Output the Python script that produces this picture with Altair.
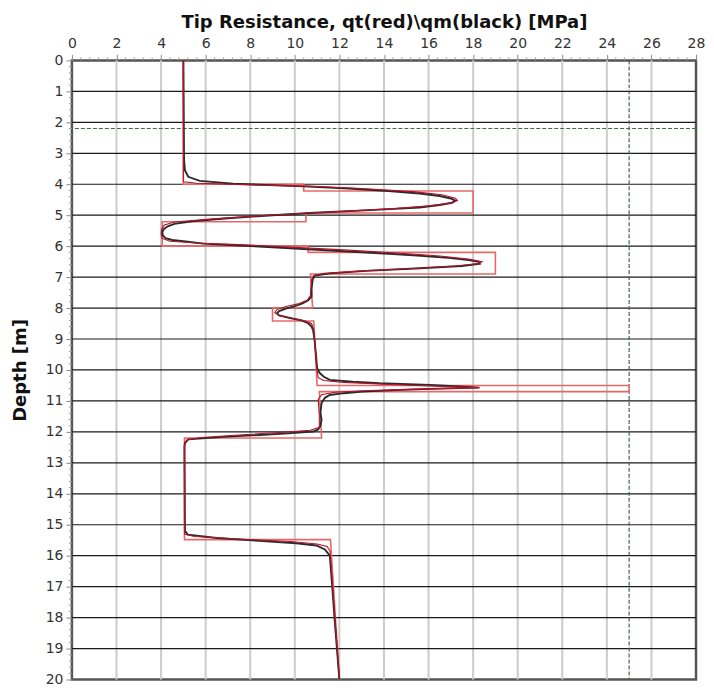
import altair as alt
import pandas as pd

# ---- data ----
# measured cone resistance qm (black curve)
qm_depth = [0.0, 3.2, 3.55, 3.76, 3.89, 3.98, 4.07, 4.14, 4.22, 4.3, 4.38, 4.46, 4.53, 4.6, 4.67,
            4.75, 4.83, 4.92, 5.0, 5.1, 5.2, 5.28, 5.36, 5.45, 5.55, 5.65, 5.74, 5.8, 5.86, 5.92,
            5.98, 6.06, 6.14, 6.22, 6.3, 6.38, 6.45, 6.51, 6.57, 6.64, 6.72, 6.8, 6.88, 6.95,
            7.08, 7.4, 7.63, 7.75, 7.85, 7.94, 8.02, 8.1, 8.17, 8.24, 8.32, 8.4, 8.49, 8.6, 8.71,
            9.0, 9.5, 9.94, 10.1, 10.22, 10.32, 10.38, 10.43, 10.48, 10.53, 10.57, 10.61, 10.65,
            10.7, 10.75, 10.81, 10.9, 11.07, 11.39, 11.61, 11.8, 11.92, 11.99, 12.05, 12.1,
            12.16, 12.24, 12.36, 12.5, 15.2, 15.32, 15.43, 15.52, 15.6, 15.67, 15.8, 16.0,
            17.0, 18.0, 19.0, 20.0]
qm_val = [5.0, 5.03, 5.07, 5.22, 5.74, 7.23, 10.4, 12.4, 14.2, 15.6, 16.5, 17.0, 17.2, 17.05, 16.5,
          15.6, 13.6, 10.9, 9.0, 7.0, 5.4, 4.6, 4.3, 4.12, 4.06, 4.08, 4.2, 4.5, 5.2, 5.9,
          7.5, 9.6, 11.6, 13.6, 15.5, 16.9, 17.8, 18.25, 18.3, 17.5, 15.4, 13.2, 11.6, 10.9,
          10.8, 10.75, 10.75, 10.6, 10.35, 10.0, 9.6, 9.3, 9.2, 9.3, 9.78, 10.3, 10.6, 10.75, 10.82,
          10.88, 10.95, 11.0, 11.12, 11.3, 11.57, 12.6, 13.8, 16.05, 17.4, 18.25, 16.05, 14.5,
          13.05, 12.2, 11.57, 11.35, 11.2, 11.15, 11.2, 11.15, 11.05, 10.82, 9.7, 8.42,
          6.8, 5.22, 5.07, 5.05, 5.07, 5.2, 6.5, 8.4, 10.07, 10.97, 11.35, 11.57,
          11.68, 11.78, 11.89, 12.0]

# corrected cone resistance qt (dark red curve)
qt_depth = [0.0, 3.92, 3.97, 4.02, 4.06, 4.14, 4.24, 4.34, 4.45, 4.53, 4.61, 4.7, 4.78, 4.86,
            4.93, 5.02, 5.12, 5.22, 5.32, 5.45, 5.6, 5.75, 5.84, 5.9, 5.96, 6.04, 6.12, 6.22,
            6.32, 6.42, 6.5, 6.57, 6.64, 6.72, 6.8, 6.88, 6.95, 7.1, 7.6, 7.75, 7.85, 7.95,
            8.05, 8.15, 8.25, 8.32, 8.4, 8.5, 8.7, 10.0, 10.25, 10.34, 10.4, 10.46, 10.52,
            10.57, 10.62, 10.67, 10.72, 10.8, 10.95, 11.5, 11.85, 11.95, 12.02, 12.1, 12.18,
            12.26, 12.4, 15.3, 15.38, 15.46, 15.54, 15.62, 15.7, 15.85, 20.0]
qt_val = [5.0, 5.0, 5.6, 8.0, 10.6, 13.0, 15.3, 16.6, 17.2, 17.3, 17.0, 16.0, 14.6, 12.6,
          10.6, 8.5, 6.3, 4.6, 4.15, 4.02, 4.0, 4.05, 4.4, 5.6, 7.8, 10.0, 12.2, 14.6,
          16.5, 17.8, 18.4, 18.2, 17.2, 15.3, 13.0, 11.3, 10.85, 10.75, 10.7, 10.55, 10.2, 9.6,
          9.2, 9.1, 9.3, 9.8, 10.4, 10.75, 10.85, 11.0, 11.05, 11.3, 12.2, 14.0, 16.0,
          18.3, 15.5, 13.0, 11.8, 11.2, 11.05, 11.1, 11.1, 10.7, 9.3, 7.5, 5.8,
          5.15, 5.05, 5.05, 5.5, 7.5, 9.8, 11.0, 11.45, 11.58, 12.0]

# interpreted layered qt (pink step profile)
layer_depth = [0.0, 4.0, 4.0, 4.22, 4.22, 4.93, 4.93, 5.21, 5.21, 6.0, 6.0, 6.2, 6.2, 6.9, 6.9,
               8.0, 8.0, 8.42, 8.42, 10.5, 10.5, 10.7, 10.7, 12.2, 12.2, 15.48, 15.48, 20.0]
layer_qt = [5.0, 5.0, 10.4, 10.4, 18.0, 18.0, 10.5, 10.5, 4.05, 4.05, 10.6, 10.6, 19.0, 19.0, 10.7,
            10.8, 9.0, 9.0, 10.85, 11.0, 25.0, 25.0, 11.1, 11.2, 5.05, 5.05, 11.6, 12.0]

x_ticks = [0, 2, 4, 6, 8, 10, 12, 14, 16, 18, 20, 22, 24, 26, 28]
y_ticks = list(range(0, 21))
x_minor = [v / 10 for v in range(0, 281, 4) if v % 20 != 0]
y_minor = [v / 10 for v in range(0, 201, 2) if v % 10 != 0]
water_level = [2.2]
q_limit = [25.0]

# ---- frames ----
qm_df = pd.DataFrame({"depth": qm_depth, "q": qm_val, "i": range(len(qm_val))})
qt_df = pd.DataFrame({"depth": qt_depth, "q": qt_val, "i": range(len(qt_val))})
lay_df = pd.DataFrame({"depth": layer_depth, "q": layer_qt, "i": range(len(layer_qt))})
vgrid_df = pd.DataFrame({"q": x_ticks[1:-1]})
hgrid_df = pd.DataFrame({"depth": y_ticks[1:-1]})
xminor_df = pd.DataFrame({"q": x_minor})
yminor_df = pd.DataFrame({"depth": y_minor})
wl_df = pd.DataFrame({"depth": water_level})
ql_df = pd.DataFrame({"q": q_limit})

FONT = "DejaVu Sans"
xscale = alt.Scale(domain=[0, 28], nice=False, zero=False)
yscale = alt.Scale(domain=[0, 20], nice=False, reverse=True)
xaxis = alt.Axis(orient="top", values=x_ticks, title="Tip Resistance, qt(red)\\qm(black) [MPa]",
                 titleFont=FONT, titleFontSize=18, titleFontWeight="bold", titleColor="#111111",
                 titlePadding=5, labelFont=FONT, labelFontSize=14, labelColor="#333333",
                 labelFlush=False, labelOverlap=False, labelPadding=4, tickSize=6,
                 tickColor="#8a8a8a", domain=False, grid=False)
yaxis = alt.Axis(orient="left", values=y_ticks, title="Depth [m]",
                 titleFont=FONT, titleFontSize=18, titleFontWeight="bold", titleColor="#111111",
                 titlePadding=16, labelFont=FONT, labelFontSize=14, labelColor="#333333",
                 labelFlush=False, labelOverlap=False, labelPadding=3, tickSize=6,
                 tickColor="#8a8a8a", domain=False, grid=False)


def X():
    return alt.X("q:Q", scale=xscale, axis=xaxis)


def Y():
    return alt.Y("depth:Q", scale=yscale, axis=yaxis)


vgrid = alt.Chart(vgrid_df).mark_rule(color="#cccccc", strokeWidth=2).encode(x=X())
hgrid = alt.Chart(hgrid_df).mark_rule(color="#1a1a1a", strokeWidth=1.2).encode(y=Y())
wl = alt.Chart(wl_df).mark_rule(color="#3f6b3f", strokeWidth=1.2, strokeDash=[4, 2]).encode(y=Y())
ql = alt.Chart(ql_df).mark_rule(color="#3f6b3f", strokeWidth=1.2, strokeDash=[4, 2]).encode(x=X())
steps = alt.Chart(lay_df).mark_line(color="#e46a6a", strokeWidth=1.6).encode(
    x=X(), y=Y(), order=alt.Order("i:Q"))
qm_line = alt.Chart(qm_df).mark_line(color="#2b2b2b", strokeWidth=1.9).encode(
    x=X(), y=Y(), order=alt.Order("i:Q"))
qt_line = alt.Chart(qt_df).mark_line(color="#b3122a", strokeWidth=1.1).encode(
    x=X(), y=Y(), order=alt.Order("i:Q"))
xminor = alt.Chart(xminor_df).mark_rule(color="#9a9a9a", strokeWidth=1).encode(
    x=X(), y=alt.value(0), y2=alt.value(-3))
yminor = alt.Chart(yminor_df).mark_rule(color="#9a9a9a", strokeWidth=1).encode(
    y=Y(), x=alt.value(0), x2=alt.value(-3))

chart = alt.layer(vgrid, hgrid, wl, ql, steps, qm_line, qt_line, xminor, yminor).properties(
    width=625, height=620,
    autosize=alt.AutoSizeParams(type="none"),
    padding={"left": 64, "top": 52, "right": 10, "bottom": 6},
    background="white",
).configure_view(stroke="#555555", strokeWidth=2.5)

chart.save("out.html", embed_options={"renderer": "svg", "actions": False})
